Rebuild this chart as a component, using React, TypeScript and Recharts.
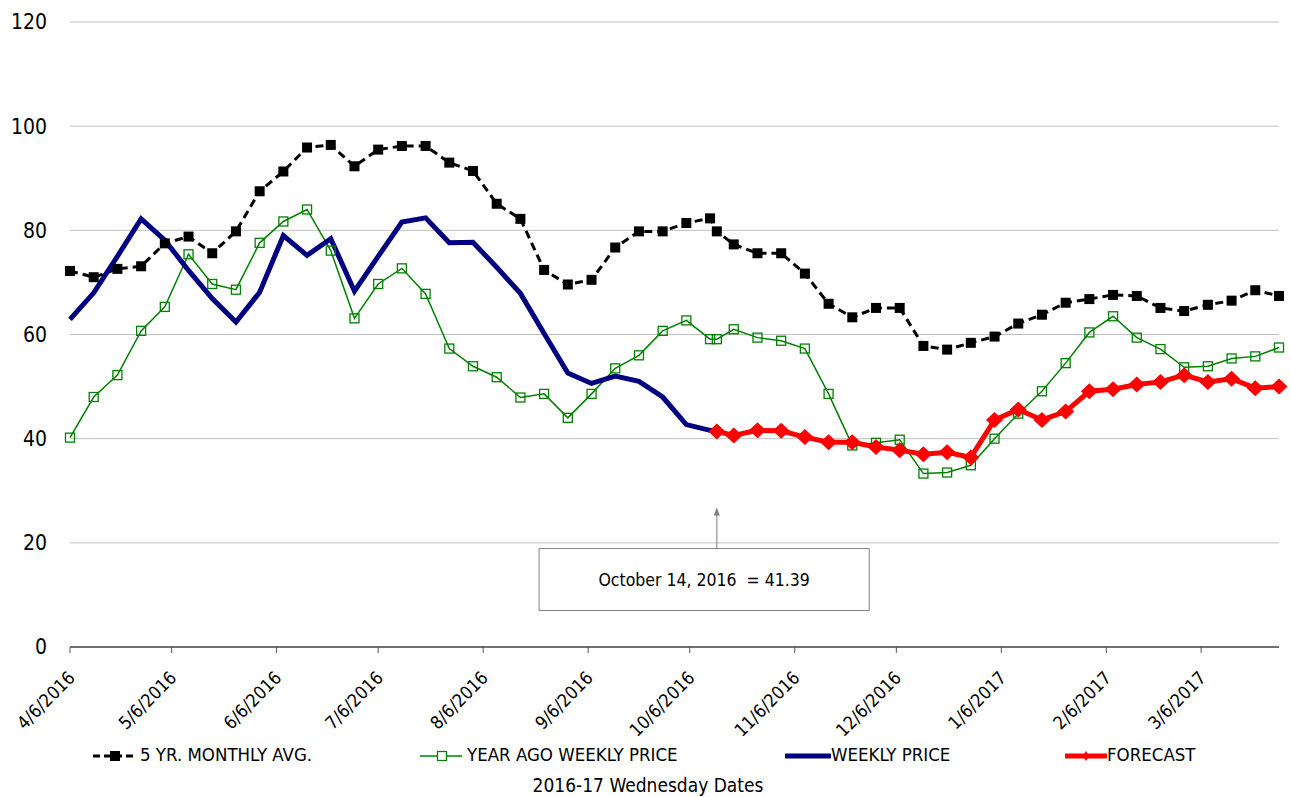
import React from "react";
import {
  LineChart,
  Line,
  XAxis,
  YAxis,
  CartesianGrid,
  Legend,
  ReferenceArea,
  ReferenceLine,
} from "recharts";

// Wednesday dates (plus the 10/14 price date)
const dates = [
  "4/6/2016", "4/13/2016", "4/20/2016", "4/27/2016", "5/4/2016", "5/11/2016", "5/18/2016",
  "5/25/2016", "6/1/2016", "6/8/2016", "6/15/2016", "6/22/2016", "6/29/2016", "7/6/2016",
  "7/13/2016", "7/20/2016", "7/27/2016", "8/3/2016", "8/10/2016", "8/17/2016", "8/24/2016",
  "8/31/2016", "9/7/2016", "9/14/2016", "9/21/2016", "9/28/2016", "10/5/2016", "10/12/2016",
  "10/14/2016",
  "10/19/2016", "10/26/2016", "11/2/2016", "11/9/2016", "11/16/2016", "11/23/2016",
  "11/30/2016", "12/7/2016", "12/14/2016", "12/21/2016", "12/28/2016", "1/4/2017",
  "1/11/2017", "1/18/2017", "1/25/2017", "2/1/2017", "2/8/2017", "2/15/2017", "2/22/2017",
  "3/1/2017", "3/8/2017", "3/15/2017", "3/22/2017", "3/29/2017",
];

const fiveYrAvg = [
  72.2, 71.0, 72.6, 73.1, 77.5, 78.8, 75.6, 79.8, 87.5, 91.3, 95.9, 96.4, 92.3, 95.5,
  96.2, 96.2, 93.0, 91.4, 85.1, 82.2, 72.4, 69.6, 70.5, 76.7, 79.8, 79.8, 81.4, 82.3,
  79.8,
  77.3, 75.6, 75.6, 71.7, 65.9, 63.3, 65.1, 65.1, 57.8, 57.1, 58.4, 59.6,
  62.1, 63.8, 66.1, 66.8, 67.6, 67.4, 65.1, 64.5, 65.7, 66.5, 68.5, 67.4,
];

const yearAgo = [
  40.2, 48.0, 52.2, 60.7, 65.3, 75.4, 69.7, 68.6, 77.6, 81.7, 84.0, 76.1, 63.1, 69.7,
  72.7, 67.8, 57.3, 53.9, 51.8, 47.9, 48.6, 44.0, 48.6, 53.5, 56.0, 60.7, 62.7, 59.1,
  59.1,
  61.0, 59.4, 58.8, 57.3, 48.6, 38.7, 39.2, 39.8, 33.3, 33.5, 34.9, 40.0,
  44.8, 49.1, 54.5, 60.4, 63.5, 59.4, 57.2, 53.7, 53.9, 55.4, 55.8, 57.5,
];

const weeklyPrice = [
  62.9, 68.0, 75.0, 82.2, 78.1, 72.3, 66.9, 62.4, 68.1, 79.0, 75.2, 78.4, 68.3, 75.0,
  81.6, 82.4, 77.6, 77.7, 72.9, 67.9, 60.2, 52.6, 50.6, 52.0, 51.0, 48.0, 42.7, 41.6,
  41.39,
];

const forecast = [
  41.39,
  40.6, 41.6, 41.5, 40.3, 39.3, 39.3, 38.4, 37.8, 37.0, 37.4, 36.4, 43.6,
  45.6, 43.6, 45.2, 49.1, 49.5, 50.4, 50.9, 52.2, 50.9, 51.5, 49.7, 50.0,
];

const tickLabels = [
  "4/6/2016", "5/6/2016", "6/6/2016", "7/6/2016", "8/6/2016", "9/6/2016", "10/6/2016",
  "11/6/2016", "12/6/2016", "1/6/2017", "2/6/2017", "3/6/2017",
];

const yTicks = [0, 20, 40, 60, 80, 100, 120];

const FONT = "'DejaVu Sans Condensed', 'DejaVu Sans', sans-serif";

const toDay = (s: string) => {
  const [m, d, y] = s.split("/").map(Number);
  return Math.round((Date.UTC(y, m - 1, d) - Date.UTC(2016, 3, 6)) / 86400000);
};

const forecastStart = dates.length - forecast.length;

const data = dates.map((d, i) => ({
  day: toDay(d),
  avg: fiveYrAvg[i],
  yearAgo: yearAgo[i],
  weekly: i < weeklyPrice.length ? weeklyPrice[i] : null,
  forecast: i >= forecastStart ? forecast[i - forecastStart] : null,
}));

const tickDays = tickLabels.map(toDay);
const labelFor = (v: number) => tickLabels[tickDays.indexOf(v)] ?? "";

const DateTick = (props: any) => {
  const { x, y, payload } = props;
  const ax = x + 6;
  const ay = y + 24;
  return (
    <text
      x={ax}
      y={ay}
      transform={`rotate(-45, ${ax}, ${ay})`}
      textAnchor="end"
      fontSize={18}
      fontFamily={FONT}
      fill="#000"
    >
      {labelFor(payload.value)}
    </text>
  );
};

const blackSquare = (props: any) => {
  const { cx, cy, index } = props;
  if (cy == null) return <g key={`b${index}`} />;
  return <rect key={`b${index}`} x={cx - 5} y={cy - 5} width={10} height={10} fill="#000" />;
};

const greenSquare = (props: any) => {
  const { cx, cy, index } = props;
  if (cy == null) return <g key={`g${index}`} />;
  return (
    <rect
      key={`g${index}`}
      x={cx - 4.5}
      y={cy - 4.5}
      width={9}
      height={9}
      fill="none"
      stroke="#008000"
      strokeWidth={1.3}
    />
  );
};

const redDiamond = (props: any) => {
  const { cx, cy, index } = props;
  if (cy == null) return <g key={`r${index}`} />;
  return (
    <polygon
      key={`r${index}`}
      points={`${cx},${cy - 8} ${cx + 8.5},${cy} ${cx},${cy + 8} ${cx - 8.5},${cy}`}
      fill="#ff0000"
    />
  );
};

const ArrowShape = (props: any) => {
  const { x1, y1, x2, y2 } = props;
  const top = Math.min(y1, y2);
  const bottom = Math.max(y1, y2);
  return (
    <g>
      <line x1={x1} y1={bottom} x2={x2} y2={top + 6} stroke="#808080" strokeWidth={1} />
      <polygon points={`${x1},${top} ${x1 + 3},${top + 8} ${x1 - 3},${top + 8}`} fill="#808080" />
    </g>
  );
};

const legendItems = [
  { label: "5 YR. MONTHLY AVG.", left: 93, textLeft: 140 },
  { label: "YEAR AGO WEEKLY PRICE", left: 420, textLeft: 467 },
  { label: "WEEKLY PRICE", left: 785, textLeft: 831 },
  { label: "FORECAST", left: 1065, textLeft: 1107 },
];

const LegendIcon = ({ i }: { i: number }) => {
  if (i === 0)
    return (
      <svg width={44} height={12}>
        <line x1={0} y1={6} x2={44} y2={6} stroke="#000" strokeWidth={3} strokeDasharray="7 4" />
        <rect x={17} y={1} width={10} height={10} fill="#000" />
      </svg>
    );
  if (i === 1)
    return (
      <svg width={44} height={12}>
        <line x1={0} y1={6} x2={42} y2={6} stroke="#008000" strokeWidth={1.5} />
        <rect x={17.5} y={1.5} width={9} height={9} fill="#fff" stroke="#008000" strokeWidth={1.3} />
      </svg>
    );
  if (i === 2)
    return (
      <svg width={46} height={12}>
        <line x1={1} y1={6} x2={45} y2={6} stroke="#000080" strokeWidth={5} strokeLinecap="round" />
      </svg>
    );
  return (
    <svg width={42} height={12}>
      <line x1={1} y1={6} x2={41} y2={6} stroke="#ff0000" strokeWidth={5} strokeLinecap="round" />
      <polygon points="21,1 24,6 21,11 18,6" fill="#ff0000" />
    </svg>
  );
};

const renderLegend = () => (
  <div style={{ position: "relative", width: 1291, height: 26, fontFamily: FONT }}>
    {legendItems.map((it, i) => (
      <React.Fragment key={it.label}>
        <div style={{ position: "absolute", left: it.left, top: 7, lineHeight: 0 }}>
          <LegendIcon i={i} />
        </div>
        <div
          style={{
            position: "absolute",
            left: it.textLeft,
            top: 1,
            fontSize: 18.5,
            lineHeight: "22px",
            color: "#000",
            whiteSpace: "nowrap",
          }}
        >
          {it.label}
        </div>
      </React.Fragment>
    ))}
  </div>
);

export default function App() {
  return (
    <div style={{ position: "absolute", left: 0, top: 0, width: 1291, height: 797, background: "#fff" }}>
      <LineChart
        width={1291}
        height={797}
        data={data}
        margin={{ top: 22, right: 12, bottom: 0, left: 0 }}
      >
        <CartesianGrid horizontal vertical={false} stroke="#c0c0c0" strokeWidth={1} />
        <XAxis
          dataKey="day"
          type="number"
          domain={[0, 357]}
          ticks={tickDays}
          interval={0}
          height={150}
          axisLine={{ stroke: "#000", strokeWidth: 1 }}
          tickLine={{ stroke: "#555" }}
          tickSize={6}
          tick={<DateTick />}
          label={(p: any) => {
            const vb = p.viewBox;
            return (
              <text
                x={648}
                y={vb.y + vb.height - 5}
                textAnchor="middle"
                fontSize={19}
                fontFamily={FONT}
                fill="#000"
              >
                2016-17 Wednesday Dates
              </text>
            );
          }}
        />
        <YAxis
          domain={[0, 120]}
          ticks={yTicks}
          width={70}
          axisLine={false}
          tickLine={false}
          tickSize={0}
          tickMargin={23}
          tick={{ fontSize: 21, fill: "#000", fontFamily: FONT }}
        />
        <ReferenceArea
          x1={138.5}
          x2={236}
          y1={7}
          y2={18.9}
          fill="#fff"
          fillOpacity={1}
          stroke="#808080"
          strokeWidth={1}
          label={{
            value: "October 14, 2016\u00A0 = 41.39",
            position: "center",
            fontSize: 17.5,
            fill: "#000",
            fontFamily: FONT,
          }}
        />
        <ReferenceLine
          segment={[
            { x: 191, y: 18.9 },
            { x: 191, y: 26.8 },
          ]}
          shape={<ArrowShape />}
        />
        <Line
          dataKey="avg"
          stroke="#000"
          strokeWidth={3}
          strokeDasharray="8 5"
          dot={blackSquare}
          activeDot={false}
          isAnimationActive={false}
        />
        <Line
          dataKey="yearAgo"
          stroke="#008000"
          strokeWidth={1.5}
          dot={greenSquare}
          activeDot={false}
          isAnimationActive={false}
        />
        <Line
          dataKey="weekly"
          stroke="#000080"
          strokeWidth={5}
          dot={false}
          activeDot={false}
          isAnimationActive={false}
        />
        <Line
          dataKey="forecast"
          stroke="#ff0000"
          strokeWidth={5}
          dot={redDiamond}
          activeDot={false}
          isAnimationActive={false}
        />
        <Legend
          layout="vertical"
          align="center"
          verticalAlign="middle"
          content={renderLegend}
          wrapperStyle={{ left: 0, top: 743, width: 1291 }}
        />
      </LineChart>
    </div>
  );
}
